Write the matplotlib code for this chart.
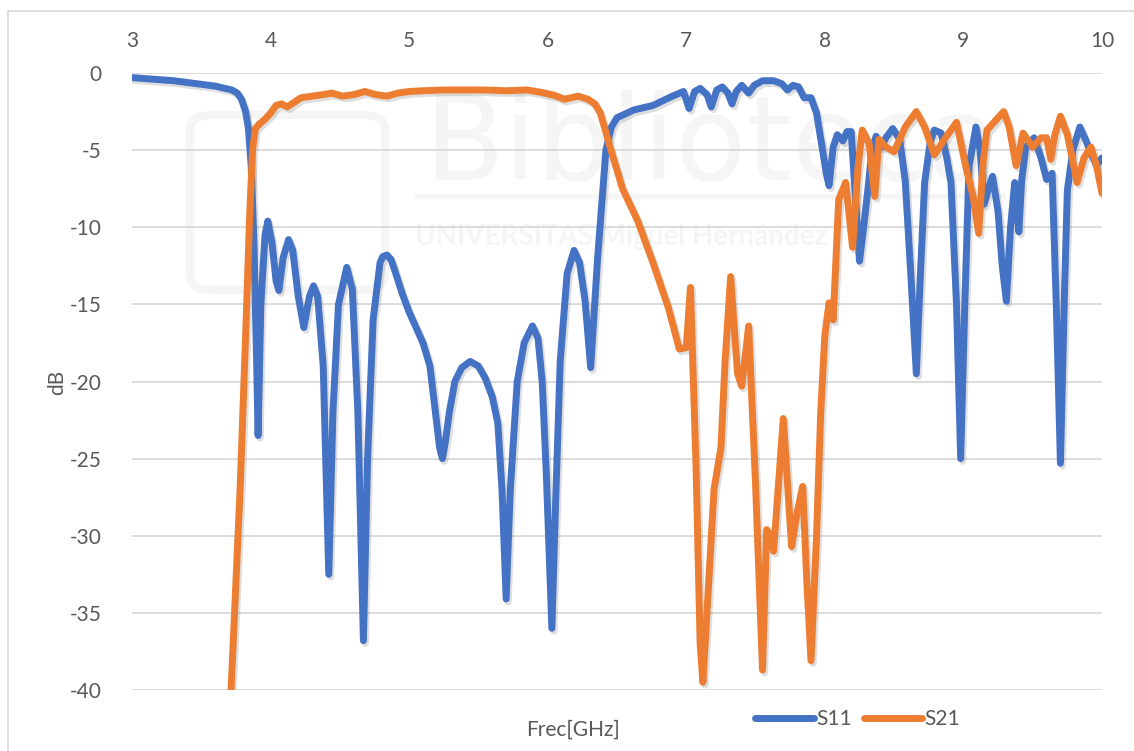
import matplotlib
matplotlib.use("Agg")
import matplotlib.pyplot as plt
import matplotlib.patheffects as pe
from matplotlib.patches import Rectangle, FancyBboxPatch

# S11 trace (frequency in GHz, magnitude in dB)
s11_f = [3.00, 3.30, 3.60, 3.72, 3.76, 3.79, 3.82, 3.84, 3.86, 3.88, 3.90, 3.91, 3.93, 3.96, 3.98,
         4.01, 4.04, 4.06, 4.09, 4.13, 4.16, 4.20, 4.24, 4.28, 4.31, 4.34, 4.38, 4.42,
         4.45, 4.49, 4.55, 4.59, 4.63, 4.67, 4.70, 4.74, 4.79, 4.81, 4.84, 4.87, 4.90,
         4.95, 5.00, 5.05, 5.10, 5.15, 5.19, 5.22, 5.24, 5.26, 5.29, 5.33, 5.38, 5.44,
         5.50, 5.55, 5.60, 5.64, 5.67, 5.70, 5.73, 5.78, 5.83, 5.89, 5.93,
         5.96, 5.99, 6.03, 6.06, 6.09, 6.14, 6.19, 6.23, 6.27, 6.31, 6.36, 6.42, 6.46, 6.50, 6.62,
         6.76, 6.90, 6.98, 7.02, 7.06, 7.10, 7.15, 7.18, 7.22, 7.26, 7.30, 7.33, 7.36,
         7.40, 7.45, 7.49, 7.55, 7.63, 7.69, 7.73, 7.77, 7.81, 7.85, 7.90, 7.94, 7.98,
         8.01, 8.03, 8.06, 8.09, 8.13, 8.16, 8.19, 8.22, 8.25, 8.28, 8.31, 8.34, 8.37,
         8.41, 8.44, 8.49, 8.54, 8.58, 8.62, 8.66, 8.69, 8.72, 8.76, 8.79, 8.84, 8.88,
         8.91, 8.95, 8.98, 9.01, 9.04, 9.09, 9.12, 9.15, 9.18, 9.21, 9.25, 9.28, 9.31,
         9.34, 9.37, 9.40, 9.42, 9.45, 9.51, 9.56, 9.60, 9.64, 9.67, 9.70, 9.73, 9.75,
         9.79, 9.84, 9.88, 9.92, 9.96, 10.00]
s11_db = [-0.3, -0.5, -0.85, -1.1, -1.3, -1.7, -2.5, -3.6, -6.0, -11.0, -19.0, -23.5, -15.0, -10.5, -9.6,
          -11.0, -13.5, -14.1, -12.0, -10.8, -11.5, -14.5, -16.5, -14.5, -13.8, -14.5, -19.0, -32.5,
          -22.0, -15.0, -12.6, -14.0, -22.0, -36.8, -25.0, -16.0, -12.3, -11.9, -11.8, -12.1, -12.9,
          -14.3, -15.5, -16.5, -17.5, -19.0, -22.0, -24.3, -25.0, -24.0, -22.0, -20.0, -19.1, -18.7,
          -19.0, -19.8, -21.0, -22.7, -27.0, -34.1, -27.0, -20.0, -17.5, -16.4, -17.2,
          -20.0, -26.0, -36.0, -27.0, -18.7, -13.0, -11.5, -12.3, -14.8, -19.1, -12.0, -5.0, -3.5, -2.9, -2.4,
          -2.1, -1.5, -1.2, -2.3, -1.2, -1.0, -1.4, -2.2, -1.1, -0.9, -1.3, -2.0, -1.2,
          -0.8, -1.3, -0.8, -0.5, -0.5, -0.7, -1.1, -0.8, -0.9, -1.6, -1.6, -2.6, -4.8,
          -6.5, -7.3, -4.8, -4.0, -4.4, -3.8, -3.8, -8.0, -12.2, -10.0, -7.6, -5.0, -4.1,
          -4.8, -4.2, -3.6, -4.3, -7.0, -13.0, -19.5, -13.0, -7.1, -4.5, -3.7, -3.9, -5.5,
          -7.1, -15.0, -25.0, -15.0, -6.1, -3.5, -5.0, -8.5, -7.5, -6.7, -9.0, -12.5, -14.8,
          -10.0, -7.1, -10.3, -7.0, -4.8, -4.2, -5.5, -6.9, -6.5, -15.0, -25.3, -14.0, -7.6,
          -5.0, -3.5, -4.3, -5.2, -6.0, -5.5]

# S21 trace
s21_f = [3.71, 3.74, 3.78, 3.82, 3.85, 3.87, 3.89, 3.92, 3.96, 4.00, 4.04, 4.08, 4.12,
         4.17, 4.22, 4.30, 4.38, 4.44, 4.52, 4.60, 4.68, 4.76, 4.84, 4.92, 5.00, 5.10,
         5.25, 5.40, 5.55, 5.70, 5.85, 5.95, 6.05, 6.12, 6.17, 6.22, 6.29, 6.34, 6.38, 6.45,
         6.54, 6.65, 6.76, 6.87, 6.95, 7.00, 7.03, 7.07, 7.10, 7.12, 7.16, 7.20, 7.25,
         7.28, 7.32, 7.35, 7.37, 7.40, 7.43, 7.45, 7.50, 7.55, 7.58, 7.61, 7.63, 7.70,
         7.76, 7.80, 7.84, 7.87, 7.90, 7.94, 7.97, 8.00, 8.03, 8.06, 8.10, 8.15, 8.20,
         8.24, 8.27, 8.32, 8.36, 8.39, 8.44, 8.50, 8.58, 8.66, 8.72, 8.79, 8.87, 8.95,
         9.02, 9.07, 9.11, 9.14, 9.17, 9.22, 9.29, 9.33, 9.38, 9.43, 9.50, 9.56, 9.60,
         9.63, 9.66, 9.70, 9.75, 9.82, 9.87, 9.92, 9.96, 10.00]
s21_db = [-41.0, -35.0, -27.0, -17.0, -9.0, -5.0, -3.6, -3.3, -3.0, -2.6, -2.1, -2.0, -2.2,
          -1.9, -1.6, -1.5, -1.4, -1.3, -1.5, -1.4, -1.2, -1.4, -1.5, -1.3, -1.2, -1.15,
          -1.1, -1.1, -1.1, -1.15, -1.1, -1.25, -1.45, -1.7, -1.6, -1.5, -1.7, -2.0, -2.6, -4.8,
          -7.5, -9.6, -12.3, -15.2, -17.9, -17.8, -13.9, -25.4, -37.0, -39.5, -33.3, -27.0, -24.3,
          -18.7, -13.2, -17.0, -19.5, -20.3, -18.0, -16.4, -26.7, -38.7, -29.6, -30.0, -31.0, -22.4,
          -30.7, -28.5, -26.8, -33.0, -38.1, -30.0, -22.0, -17.0, -14.9, -16.0, -8.2, -7.1, -11.3,
          -6.0, -3.7, -4.6, -8.0, -4.3, -4.8, -5.1, -3.5, -2.5, -3.5, -5.3, -4.2, -3.2,
          -6.2, -8.0, -10.4, -6.0, -3.7, -3.2, -2.5, -3.5, -6.0, -3.9, -4.8, -4.2, -4.2,
          -5.6, -4.0, -2.8, -4.0, -7.1, -5.5, -4.8, -6.0, -7.8]

x_ticks = [3, 4, 5, 6, 7, 8, 9, 10]
y_ticks = [0, -5, -10, -15, -20, -25, -30, -35, -40]

plt.rcParams["font.family"] = ["Lato", "DejaVu Sans"]
plt.rcParams["axes.unicode_minus"] = False

W, H = 1134, 751
fig = plt.figure(figsize=(W / 100, H / 100), dpi=100)
txt = "#595959"

# outer chart border
fig.add_artist(Rectangle((8 / W, -0.05), 1.1, 1 - 11 / H + 0.05, transform=fig.transFigure,
                         fill=False, edgecolor="#d9d9d9", lw=1.2, zorder=0.1))

# very faint watermark, drawn on the figure below the (transparent) axes
wm = "#f5f5f5"
fig.text(425 / W, 1 - 180 / H, "Biblioteca", fontsize=84, color=wm, zorder=0.3,
         family="DejaVu Sans")
fig.text(415 / W, 1 - 245 / H, "UNIVERSITAS Miguel Hernández", fontsize=20, color=wm,
         fontweight="bold", zorder=0.3)
fig.add_artist(Rectangle((415 / W, 1 - 198 / H), 590 / W, 4 / H, transform=fig.transFigure,
                         color=wm, zorder=0.3))
fig.add_artist(FancyBboxPatch((190 / W, 1 - 290 / H), 195 / W, 175 / H,
                              boxstyle="round,pad=0,rounding_size=0.02",
                              transform=fig.transFigure, fill=False, edgecolor=wm, lw=6,
                              zorder=0.3))

ax = fig.add_axes([132 / W, 1 - 690 / H, (1102 - 132) / W, (690 - 73) / H])
ax.set_zorder(1)
ax.patch.set_alpha(0)
ax.set_xlim(3, 10)
ax.set_ylim(-40, 0)
for s in ax.spines.values():
    s.set_visible(False)
ax.set_yticks(y_ticks)
ax.set_xticks(x_ticks)
ax.xaxis.tick_top()
ax.tick_params(length=0, labelsize=15, labelcolor=txt)
ax.tick_params(axis="x", pad=16)
ax.tick_params(axis="y", pad=22)
ax.yaxis.grid(True, color="#d9d9d9", lw=1.3)
ax.set_axisbelow(True)

shadow = [pe.SimpleLineShadow(offset=(1.5, -2), shadow_color="#7f7f7f", alpha=0.25),
          pe.Normal()]
ax.plot(s11_f, s11_db, color="#4472C4", lw=5, solid_joinstyle="round",
        solid_capstyle="round", label="S11", path_effects=shadow, zorder=3)
ax.plot(s21_f, s21_db, color="#ED7D31", lw=5, solid_joinstyle="round",
        solid_capstyle="round", label="S21", path_effects=shadow, zorder=3)

fig.text(57 / W, 1 - 382 / H, "dB", rotation=90, ha="center", va="center",
         fontsize=15, color=txt)
fig.text(573 / W, 1 - 730 / H, "Frec[GHz]", ha="center", va="center",
         fontsize=15, color=txt)

leg = ax.legend(loc="center left", bbox_to_anchor=(745 / W, 1 - 719 / H),
                bbox_transform=fig.transFigure, ncol=2, frameon=False,
                fontsize=15, handlelength=2.8, handletextpad=0.1,
                columnspacing=0.6, borderpad=0, labelcolor=txt)
for h in leg.legend_handles:
    h.set_path_effects([])

fig.savefig("out.png", dpi=100)
